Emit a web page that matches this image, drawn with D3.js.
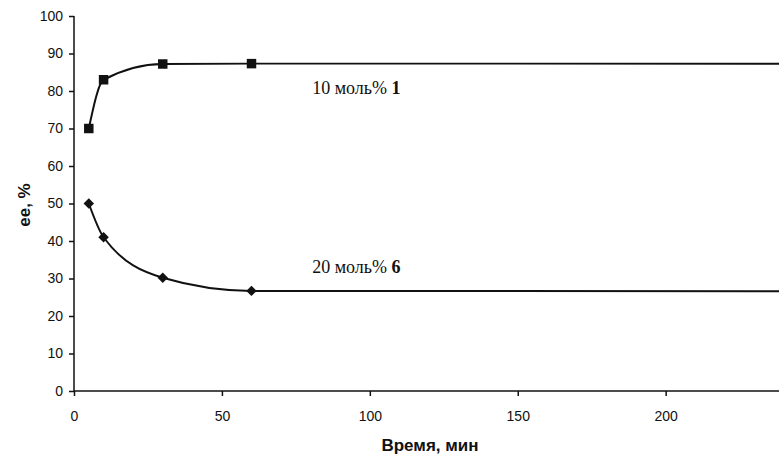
<!DOCTYPE html>
<html>
<head>
<meta charset="utf-8">
<script src="https://cdn.jsdelivr.net/npm/d3@7"></script>
<style>
	body { margin: 0; background: #fff; }
	svg { display: block; }
	.tick text { font-family: Arial, 'Liberation Sans', sans-serif; font-size: 14px; fill: #111; }
	.axis path, .axis line { stroke: #111; stroke-width: 1.5px; }
</style>
</head>
<body>
<svg width="779" height="455"></svg>
<script>
// ee vs time, two catalyst loadings

var times = [5, 10, 30, 60, 240]
var ee10 = [70, 83, 87.2, 87.3, 87.3]   // 10 моль% 1
var ee20 = [50, 41, 30.2, 26.7, 26.6]   // 20 моль% 6
var xTicks = [0, 50, 100, 150, 200]
var yTicks = [0, 10, 20, 30, 40, 50, 60, 70, 80, 90, 100]

var svg = d3.select('svg')
var x = d3.scaleLinear().domain([0, 240]).range([74, 784])
var y = d3.scaleLinear().domain([0, 100]).range([391, 16])

var yAxis = svg.append('g')
	.attr('class', 'axis')
	.attr('transform', 'translate(' + x(0) + ',0)')
	.call(d3.axisLeft(y).tickValues(yTicks).tickSize(5).tickSizeOuter(0).tickPadding(6))

var xAxis = svg.append('g')
	.attr('class', 'axis')
	.attr('transform', 'translate(0,' + y(0) + ')')
	.call(d3.axisBottom(x).tickValues(xTicks).tickSize(5).tickSizeOuter(0).tickPadding(15))

// the y axis line must not stick past 100
yAxis.select('.domain').attr('d', 'M0,' + y(100) + 'V' + y(0))
xAxis.select('.domain').attr('d', 'M' + x(0) + ',0H779')

var line = d3.line()
	.x(function(d) { return x(d[0]) })
	.y(function(d) { return y(d[1]) })
	.curve(d3.curveMonotoneX)

var series = [
	{ values: d3.zip(times, ee10), symbol: d3.symbolSquare, size: 90, rot: 0 },
	{ values: d3.zip(times, ee20), symbol: d3.symbolSquare, size: 55, rot: 45 }
]

series.forEach(function(s) {
	svg.append('path')
		.attr('d', line(s.values))
		.attr('fill', 'none')
		.attr('stroke', '#111')
		.attr('stroke-width', 2)

	svg.selectAll(null)
		.data(s.values)
		.enter()
		.append('path')
		.attr('d', d3.symbol().type(s.symbol).size(s.size))
		.attr('transform', function(d) {
			return 'translate(' + x(d[0]) + ',' + y(d[1]) + ') rotate(' + s.rot + ')'
		})
		.attr('fill', '#111')
})

// series labels
function label(xv, yv, txt, bold) {
	var t = svg.append('text')
		.attr('x', x(xv))
		.attr('y', y(yv))
		.style('font-family', "'Liberation Serif', 'Times New Roman', serif")
		.style('font-size', '18px')
		.attr('fill', '#111')
	t.append('tspan').text(txt)
	t.append('tspan').attr('font-weight', 'bold').text(bold)
}
label(80.5, 79.1, '10 моль% ', '1')
label(80.5, 31.5, '20 моль% ', '6')

// axis titles
svg.append('text')
	.attr('x', 430)
	.attr('y', 451)
	.attr('text-anchor', 'middle')
	.style('font-family', 'Arial, sans-serif')
	.style('font-size', '17px')
	.style('font-weight', 'bold')
	.attr('fill', '#111')
	.text('Время, мин')

svg.append('text')
	.attr('transform', 'translate(30,205) rotate(-90)')
	.attr('text-anchor', 'middle')
	.style('font-family', 'Arial, sans-serif')
	.style('font-size', '17px')
	.style('font-weight', 'bold')
	.attr('fill', '#111')
	.text('ee, %')
</script>
</body>
</html>
